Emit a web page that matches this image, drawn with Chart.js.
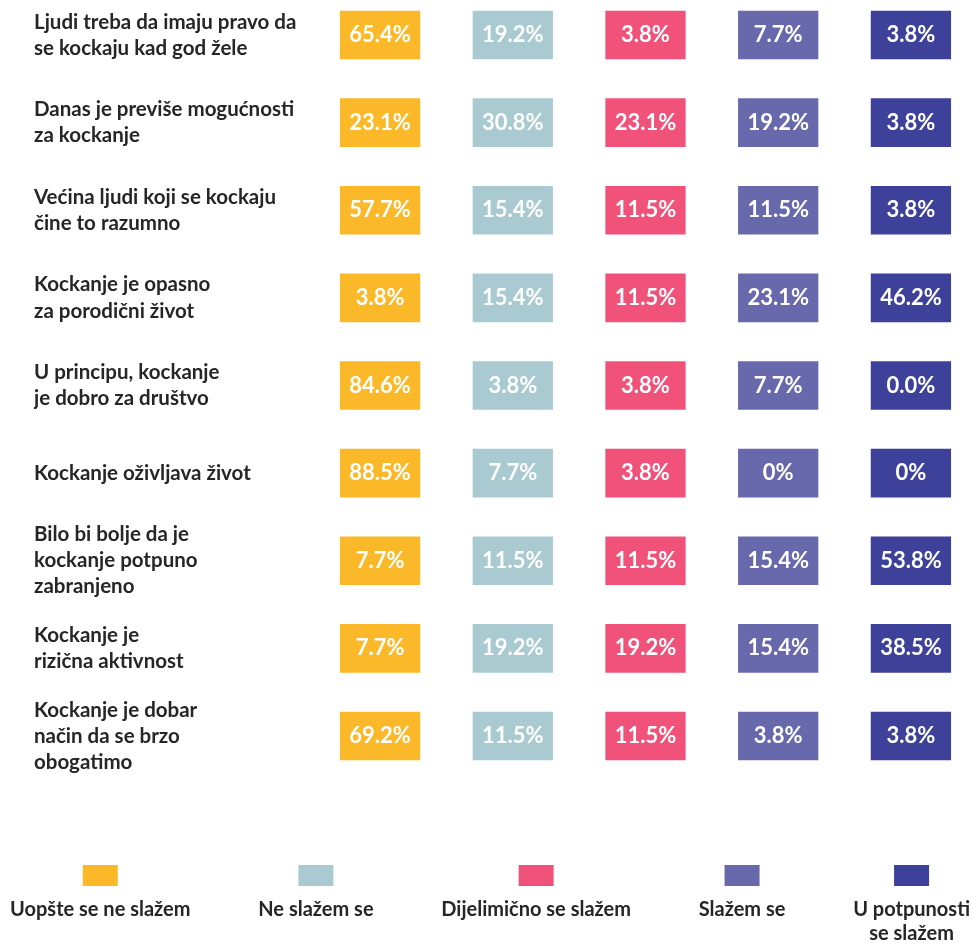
<!DOCTYPE html>
<html>
<head>
<meta charset="utf-8">
<script src="https://cdn.jsdelivr.net/npm/chart.js@4/dist/chart.umd.min.js"></script>
<style>
  html, body { margin: 0; padding: 0; background: #fff; }
  #wrap { width: 974px; height: 945px; }
</style>
</head>
<body>
<div id="wrap"><canvas id="myChart_grid"></canvas></div>
<script>
// rows (statements), one array of lines each
var statements = [
  ['Ljudi treba da imaju pravo da', 'se kockaju kad god žele'],
  ['Danas je previše mogućnosti', 'za kockanje'],
  ['Većina ljudi koji se kockaju', 'čine to razumno'],
  ['Kockanje je opasno', 'za porodični život'],
  ['U principu, kockanje', 'je dobro za društvo'],
  ['Kockanje oživljava život'],
  ['Bilo bi bolje da je', 'kockanje potpuno', 'zabranjeno'],
  ['Kockanje je', 'rizična aktivnost'],
  ['Kockanje je dobar', 'način da se brzo', 'obogatimo']
];

// answer categories (legend)
var answers = [
  ['Uopšte se ne slažem'],
  ['Ne slažem se'],
  ['Dijelimično se slažem'],
  ['Slažem se'],
  ['U potpunosti', 'se slažem']
];

// percentages as printed
var uopsteNe    = ['65.4', '23.1', '57.7', '3.8', '84.6', '88.5', '7.7', '7.7', '69.2'];
var neSlazem    = ['19.2', '30.8', '15.4', '15.4', '3.8', '7.7', '11.5', '19.2', '11.5'];
var dijelimicno = ['3.8', '23.1', '11.5', '11.5', '3.8', '3.8', '11.5', '19.2', '11.5'];
var slazem      = ['7.7', '19.2', '11.5', '23.1', '7.7', '0', '15.4', '15.4', '3.8'];
var potpuno     = ['3.8', '3.8', '3.8', '46.2', '0.0', '0', '53.8', '38.5', '3.8'];

var series = [uopsteNe, neSlazem, dijelimicno, slazem, potpuno];
var colors = ['#FBB829', '#A9CAD1', '#F0527A', '#6868AC', '#3E419A'];

var FONT = 'Lato';
var TEXT = '#262626';

Chart.defaults.font.family = FONT;
Chart.defaults.color = TEXT;

// white percentage inside each cell
var cellLabels = {
  id: 'cellLabels',
  afterDatasetsDraw: function(chart) {
    var ctx = chart.ctx;
    ctx.save();
    ctx.fillStyle = '#fff';
    ctx.font = 'bold 22px ' + FONT;
    ctx.textAlign = 'center';
    ctx.textBaseline = 'middle';
    chart.data.datasets.forEach(function(ds, k) {
      chart.getDatasetMeta(k).data.forEach(function(el, i) {
        var c = el.getCenterPoint();
        ctx.fillText(ds.values[i] + '%', c.x, c.y);
      });
    });
    ctx.restore();
  }
};

// legend: box above text, equal gaps across the width
var stackedLegend = {
  id: 'stackedLegend',
  afterDraw: function(chart) {
    var ctx = chart.ctx;
    ctx.save();
    ctx.font = 'bold 20px ' + FONT;
    var widths = answers.map(function(lines) {
      return Math.max.apply(null, lines.map(function(l) { return ctx.measureText(l).width; }));
    });
    var sum = widths.reduce(function(a, b) { return a + b; }, 0);
    var left = 10, right = 970;
    var gap = (right - left - sum) / (answers.length - 1);
    var x = left;
    ctx.textAlign = 'center';
    ctx.textBaseline = 'middle';
    answers.forEach(function(lines, k) {
      var cx = x + widths[k] / 2;
      ctx.fillStyle = chart.data.datasets[k].backgroundColor;
      ctx.fillRect(cx - 17.5, 865, 35, 21);
      ctx.fillStyle = TEXT;
      lines.forEach(function(l, j) {
        ctx.fillText(l, cx, 910 + j * 24);
      });
      x += widths[k] + gap;
    });
    ctx.restore();
  }
};

var ctx_grid = document.getElementById('myChart_grid');

var chartGrid = new Chart(ctx_grid, {
  type: 'bar',
  data: {
    labels: statements,
    datasets: answers.map(function(lines, k) {
      return {
        label: lines.join(' '),
        values: series[k],
        data: series[k].map(function() { return [k - 0.3, k + 0.3]; }),
        backgroundColor: colors[k],
        barThickness: 48,
        grouped: false,
        clip: false
      };
    })
  },
  options: {
    indexAxis: 'y',
    responsive: true,
    maintainAspectRatio: false,
    animation: false,
    layout: { padding: { top: 35, bottom: 209, left: 34, right: 10 } },
    scales: {
      x: { type: 'linear', min: -0.4, max: 4.4, display: false },
      y: {
        offset: false,
        grid: { display: false },
        border: { display: false },
        ticks: {
          autoSkip: false,
          crossAlign: 'far',
          color: TEXT,
          font: { size: 20.5, weight: 'bold', lineHeight: 1.27 }
        },
        afterFit: function(scale) {
          scale.width = 293;
          scale.paddingTop = 0;
          scale.paddingBottom = 0;
        }
      }
    },
    plugins: {
      legend: { display: false },
      tooltip: { enabled: false }
    }
  },
  plugins: [cellLabels, stackedLegend]
});
</script>
</body>
</html>
